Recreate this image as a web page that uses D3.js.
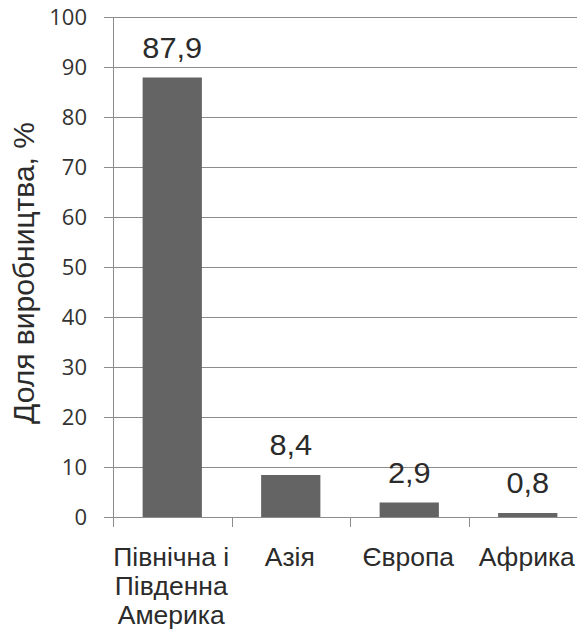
<!DOCTYPE html>
<html>
<head>
<meta charset="utf-8">
<script src="https://cdn.jsdelivr.net/npm/d3@7"></script>
<style>
  html, body { margin: 0; padding: 0; background: #fff; }
  svg { display: block; }
</style>
</head>
<body>
<svg id="chart" width="577" height="630"></svg>
<script>
// Share of production by region, %
const regions = [["Північна і", "Південна", "Америка"], ["Азія"], ["Європа"], ["Африка"]];
const shares = [87.9, 8.4, 2.9, 0.8];
const shareLabels = ["87,9", "8,4", "2,9", "0,8"];
const yTicks = [0, 10, 20, 30, 40, 50, 60, 70, 80, 90, 100];
const yTitle = "Доля виробництва, %";

const svg = d3.select("#chart");
const plotLeft = 113, plotRight = 587, plotTop = 17, plotBottom = 517;

const x = d3.scaleBand().domain(d3.range(shares.length)).range([plotLeft, plotRight]).paddingInner(0.5).paddingOuter(0.25);
const xCat = d3.scaleBand().domain(d3.range(shares.length)).range([plotLeft, plotRight]);
const y = d3.scaleLinear().domain([0, 100]).range([plotBottom, plotTop]);

const grid = "#8c8c8c";
const ink = "#2b2b2b";
const wide = 1.06; // horizontal widening of the label lettering

// horizontal gridlines with short ticks to the left of the axis
svg.append("g").selectAll("line").data(yTicks).join("line")
  .attr("x1", plotLeft - 9).attr("x2", plotRight)
  .attr("y1", d => y(d) + 0.5).attr("y2", d => y(d) + 0.5)
  .attr("stroke", grid).attr("stroke-width", 1);

// tick labels
svg.append("g").selectAll("text").data(yTicks).join("text")
  .attr("x", 87).attr("y", d => y(d))
  .attr("dy", "0.36em")
  .attr("text-anchor", "end")
  .attr("font-family", "'Open Sans', sans-serif")
  .attr("font-size", 22)
  .attr("fill", "#333")
  .text(d => d);

// vertical axis line
svg.append("line")
  .attr("x1", plotLeft + 0.5).attr("x2", plotLeft + 0.5)
  .attr("y1", plotTop).attr("y2", plotBottom)
  .attr("stroke", grid);

// category separator ticks below the baseline
const sepTicks = d3.range(shares.length + 1).map(i => i === shares.length ? plotRight : xCat(i));
svg.append("g").selectAll("line").data(sepTicks).join("line")
  .attr("x1", d => Math.round(d) + 0.5).attr("x2", d => Math.round(d) + 0.5)
  .attr("y1", plotBottom).attr("y2", plotBottom + 10)
  .attr("stroke", grid);

// bars
svg.append("g").selectAll("rect").data(shares).join("rect")
  .attr("x", (d, i) => x(i)).attr("width", x.bandwidth())
  .attr("y", d => y(d)).attr("height", d => y(0) - y(d))
  .attr("fill", "#646464");

// value labels
svg.append("g").selectAll("text").data(shares).join("text")
  .attr("transform", (d, i) => `translate(${x(i) + x.bandwidth() / 2}, ${y(d) - 20}) scale(${wide}, 1)`)
  .attr("text-anchor", "middle")
  .attr("font-family", "'Liberation Sans', Arial, sans-serif")
  .attr("font-size", 29)
  .attr("fill", ink)
  .text((d, i) => shareLabels[i]);

// category labels
const cat = svg.append("g").selectAll("text").data(regions).join("text")
  .attr("transform", (d, i) => `translate(${xCat(i) + xCat.bandwidth() / 2 - 1}, 566) scale(${wide}, 1)`)
  .attr("text-anchor", "middle")
  .attr("font-family", "'Liberation Sans', Arial, sans-serif")
  .attr("font-size", 25)
  .attr("fill", ink);
cat.selectAll("tspan").data(d => d).join("tspan")
  .attr("x", 0)
  .attr("dy", (d, i) => i === 0 ? 0 : 29)
  .text(d => d);

// axis title
svg.append("text")
  .attr("transform", `translate(34, ${(plotTop + plotBottom) / 2 + 6}) rotate(-90)`)
  .attr("text-anchor", "middle")
  .attr("font-family", "'Liberation Sans', Arial, sans-serif")
  .attr("font-size", 30)
  .attr("fill", ink)
  .text(yTitle);
</script>
</body>
</html>
